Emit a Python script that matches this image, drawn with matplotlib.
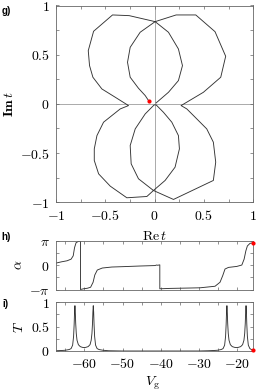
import numpy as np
import matplotlib
matplotlib.use("Agg")
import matplotlib.pyplot as plt
from matplotlib.ticker import MultipleLocator, FixedLocator, FixedFormatter

plt.rcParams['mathtext.fontset'] = 'cm'
plt.rcParams['font.family'] = ['DejaVu Sans']

# ---------------- data: transmission amplitude t in complex plane ----------------
re_t = [0.015, 0.140, 0.241, 0.282, 0.241, 0.140, 0.005, -0.258, -0.427, -0.619,
        -0.673, -0.660, -0.626, -0.535, -0.400, -0.265,
        -0.349, -0.518, -0.585, -0.612, -0.612, -0.568, -0.450, -0.282, -0.079,
        -0.012, 0.106, 0.207, 0.251, 0.241, 0.174, 0.089, 0.015,
        -0.005, -0.096, -0.197, -0.248, -0.238, -0.164, -0.012, 0.191, 0.595,
        0.619, 0.595, 0.528, 0.393, 0.326, 0.268,
        0.494, 0.670, 0.720, 0.612, 0.417, 0.218, 0.005, -0.147, -0.248,
        -0.275, -0.248, -0.164, -0.096, -0.062]
im_t = [0.010, 0.118, 0.237, 0.389, 0.558, 0.728, 0.836, 0.897, 0.904, 0.738,
        0.541, 0.389, 0.271, 0.152, 0.068, -0.017,
        -0.051, -0.186, -0.322, -0.457, -0.575, -0.711, -0.836, -0.954, -0.941,
        -0.880, -0.778, -0.643, -0.457, -0.322, -0.186, -0.085, -0.010,
        -0.010, -0.102, -0.254, -0.423, -0.609, -0.761, -0.880, -0.971, -0.778,
        -0.592, -0.389, -0.254, -0.118, -0.051, -0.017,
        0.118, 0.271, 0.484, 0.734, 0.904, 0.904, 0.836, 0.728, 0.575,
        0.423, 0.271, 0.159, 0.085, 0.034]

# ---------------- data: phase alpha vs gate voltage ----------------
vg_alpha = [-67.4, -66.0, -64.5, -63.45, -62.9, -62.55, -62.15, -61.6, -61.0, -61.0,
            -60.2, -59.2, -58.35, -57.7, -57.25, -56.6, -55.3, -52.8, -49.8, -45.5,
            -41.5, -41.1, -40.8, -40.25, -40.25, -37.6, -32.4, -29.7, -25.8, -24.5,
            -23.8, -23.2, -22.3, -20.1, -18.8, -18.2, -17.75, -17.35, -16.65, -15.8]
alpha = [0.28, 0.44, 0.58, 0.79, 1.22, 2.28, 2.92, 3.08, 3.14, -3.14,
         -3.05, -2.98, -2.85, -2.2, -1.26, -0.62, -0.36, -0.23, -0.18, -0.10,
         -0.04, 0.03, 0.0, 0.05, -3.05, -3.0, -2.95, -2.92, -2.72, -2.2,
         -1.35, -0.49, -0.28, -0.15, 0.03, 0.79, 1.86, 2.5, 2.84, 2.9]

# ---------------- data: transmission T vs gate voltage ----------------
vg_T = [-67.4, -66.0, -65.0, -63.95, -63.45, -63.05, -62.8, -62.65, -62.55, -62.45,
        -62.35, -62.25, -62.1, -61.9, -61.55, -61.05, -60.5, -60.05, -59.6, -59.0,
        -58.5, -58.2, -58.0, -57.85, -57.75, -57.65, -57.55, -57.45, -57.3, -57.05,
        -56.65, -56.15, -55.1, -53.6, -50.0, -30.0,
        -27.6, -26.2, -25.2, -24.2, -23.7, -23.3, -23.05, -22.9, -22.8, -22.7,
        -22.6, -22.5, -22.35, -22.15, -21.8, -21.3, -20.7, -20.2, -19.7, -19.1,
        -18.6, -18.25, -18.05, -17.9, -17.8, -17.7, -17.6, -17.5, -17.35, -17.1,
        -16.7, -16.2, -15.8]
T = [0.005, 0.01, 0.015, 0.03, 0.05, 0.12, 0.30, 0.55, 0.80, 0.93,
     0.80, 0.57, 0.36, 0.22, 0.13, 0.09, 0.075, 0.07, 0.075, 0.09,
     0.13, 0.22, 0.36, 0.57, 0.80, 0.93, 0.80, 0.55, 0.30, 0.12,
     0.05, 0.03, 0.015, 0.005, 0.0, 0.0,
     0.005, 0.01, 0.015, 0.03, 0.05, 0.12, 0.30, 0.55, 0.80, 0.93,
     0.80, 0.57, 0.36, 0.22, 0.13, 0.09, 0.075, 0.07, 0.075, 0.09,
     0.13, 0.22, 0.36, 0.57, 0.80, 0.93, 0.80, 0.55, 0.30, 0.12,
     0.05, 0.025, 0.012]

# ---------------- ticks ----------------
g_ticks = [-1, -0.5, 0, 0.5, 1]
g_ticklabels = [r'$-1$', r'$-0.5$', r'$0$', r'$0.5$', r'$1$']
vg_ticks = [-60, -50, -40, -30, -20]
vg_ticklabels = [r'$-60$', r'$-50$', r'$-40$', r'$-30$', r'$-20$']
a_ticks = [-np.pi, 0, np.pi]
a_ticklabels = [r'$-\pi$', r'$0$', r'$\pi$']
t_ticks = [0, 0.5, 1]
t_ticklabels = [r'$0$', r'$0.5$', r'$1$']

W, H = 258, 392
fig = plt.figure(figsize=(W / 100, H / 100), dpi=100)

def rect(l, r, t, b):
    return [l / W, 1 - b / H, (r - l) / W, (b - t) / H]

ax1 = fig.add_axes(rect(56, 253.3, 5.5, 202.3))
ax2 = fig.add_axes(rect(56, 253.3, 241, 289.5))
ax3 = fig.add_axes(rect(56, 253.3, 302.3, 351))

line_c = '#333333'
spine_c = '#666666'
lw = 0.65

for ax in (ax1, ax2, ax3):
    for s in ax.spines.values():
        s.set_color(spine_c)
        s.set_linewidth(0.6)
    ax.tick_params(which='both', direction='in', top=True, right=True,
                   length=2.3, width=0.5, color=spine_c, labelsize=10, pad=4.5)

# panel g
ax1.axhline(0, color='#888888', lw=0.5, zorder=1)
ax1.axvline(0, color='#888888', lw=0.5, zorder=1)
ax1.plot(re_t, im_t, color=line_c, lw=lw, zorder=2)
ax1.plot(re_t[-1], im_t[-1], 'o', color='red', ms=3, mec='none', zorder=3)
ax1.set_xlim(-1, 1)
ax1.set_ylim(-1, 1)
ax1.xaxis.set_major_locator(FixedLocator(g_ticks))
ax1.xaxis.set_major_formatter(FixedFormatter(g_ticklabels))
ax1.yaxis.set_major_locator(FixedLocator(g_ticks))
ax1.yaxis.set_major_formatter(FixedFormatter(g_ticklabels))
ax1.xaxis.set_minor_locator(MultipleLocator(0.25))
ax1.yaxis.set_minor_locator(MultipleLocator(0.25))
ax1.set_xlabel(r'$\mathrm{Re}\,t$', fontsize=10, va='center')
ax1.xaxis.set_label_coords(0.5, -0.171)
ax1.set_ylabel(r'$\mathbf{Im}\,t$', fontsize=10, va='center')
ax1.yaxis.set_label_coords(-0.24, 0.5)

# panel h
ax2.plot(vg_alpha, alpha, color=line_c, lw=lw)
ax2.plot(vg_alpha[-1], alpha[-1], 'o', color='red', ms=3, mec='none', clip_on=False, zorder=3)
ax2.set_xlim(-67.4, -15.8)
ax2.set_ylim(-np.pi, np.pi)
ax2.xaxis.set_major_locator(FixedLocator(vg_ticks))
ax2.xaxis.set_minor_locator(MultipleLocator(5))
ax2.set_xticklabels([])
ax2.yaxis.set_major_locator(FixedLocator(a_ticks))
ax2.yaxis.set_major_formatter(FixedFormatter(a_ticklabels))
ax2.yaxis.set_minor_locator(MultipleLocator(np.pi / 2))
ax2.set_ylabel(r'$\alpha$', fontsize=10, va='center')
ax2.yaxis.set_label_coords(-0.19, 0.5)

# panel i
ax3.plot(vg_T, T, color=line_c, lw=lw)
ax3.plot(vg_T[-1], T[-1], 'o', color='red', ms=3, mec='none', clip_on=False, zorder=3)
ax3.set_xlim(-67.4, -15.8)
ax3.set_ylim(0, 1)
ax3.xaxis.set_major_locator(FixedLocator(vg_ticks))
ax3.xaxis.set_major_formatter(FixedFormatter(vg_ticklabels))
ax3.xaxis.set_minor_locator(MultipleLocator(5))
ax3.yaxis.set_major_locator(FixedLocator(t_ticks))
ax3.yaxis.set_major_formatter(FixedFormatter(t_ticklabels))
ax3.yaxis.set_minor_locator(MultipleLocator(0.25))
ax3.set_ylabel(r'$T$', fontsize=10, va='center')
ax3.yaxis.set_label_coords(-0.19, 0.5)
ax3.set_xlabel(r'$V_{\mathrm{g}}$', fontsize=10, va='center')
ax3.xaxis.set_label_coords(0.49, -0.66)

# panel letters
for lab, (px, py) in zip(['g)', 'h)', 'i)'], [(6, 11), (6, 237), (5, 304)]):
    fig.text(px / W, 1 - py / H, lab, fontsize=7, fontweight='bold',
             family=['Liberation Sans', 'DejaVu Sans'], ha='center', va='center')

fig.savefig('out.png', dpi=100)
